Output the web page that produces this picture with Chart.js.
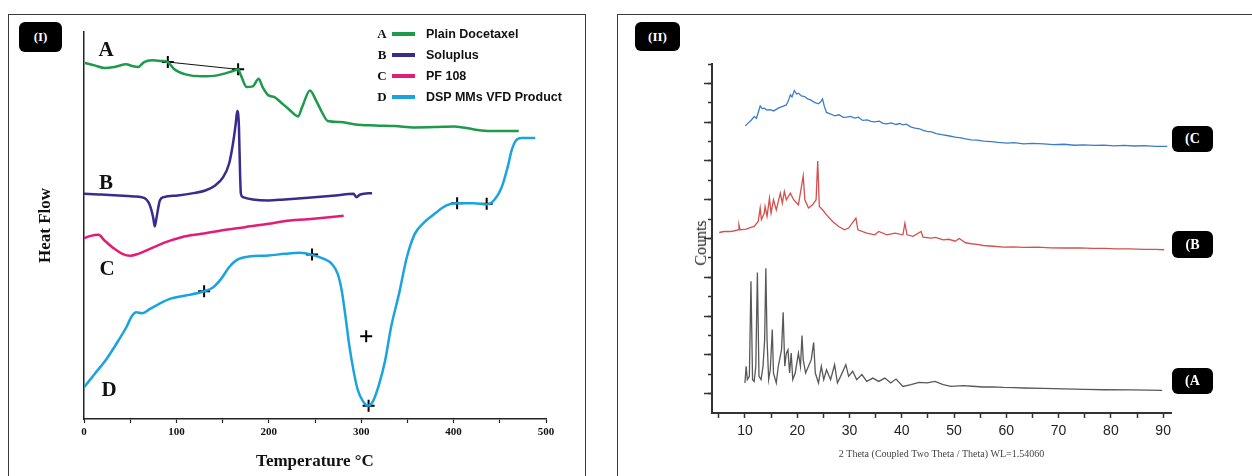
<!DOCTYPE html>
<html>
<head>
<meta charset="utf-8">
<script src="https://cdn.jsdelivr.net/npm/chart.js@4.4.0/dist/chart.umd.min.js"></script>
<style>
  body { margin: 0; background: #fff; width: 1252px; height: 476px; overflow: hidden; position: relative; font-family: "Liberation Serif", serif; }
  .panel { position: absolute; border: 1.5px solid #3a3a3a; border-bottom: none; }
  #panel1 { left: 8px; top: 14px; width: 576px; height: 470px; }
  #panel2 { left: 617px; top: 14px; width: 640px; height: 470px; border-right: none; }
  canvas { position: absolute; top: 0; }
  #dsc { left: 0; }
  #xrd { left: 620px; }
  .tag { position: absolute; background: #000; color: #fff; border-radius: 6px; font: bold 13px "Liberation Serif", serif; display: flex; align-items: center; justify-content: center; }
  .letter { position: absolute; font: bold 21px "Liberation Serif", serif; color: #111; transform: translate(-50%, -50%); }
  .leg { position: absolute; left: 376px; height: 20px; display: flex; align-items: center; }
  .leg b { font: bold 13px "Liberation Serif", serif; width: 12px; text-align: center; color: #111; }
  .leg i { display: inline-block; width: 23px; height: 4px; margin: 0 11px 0 4px; }
  .leg span { font: bold 12.5px "Liberation Sans", sans-serif; color: #111; }
  #counts { position: absolute; left: 701px; top: 243px; transform: translate(-50%, -50%) rotate(-90deg); font: 16px "Liberation Serif", serif; color: #222; white-space: nowrap; }
</style>
</head>
<body>
<div class="panel" id="panel1"></div>
<div class="panel" id="panel2"></div>

<canvas id="dsc" width="600" height="476"></canvas>
<canvas id="xrd" width="632" height="476"></canvas>

<div class="tag" style="left:19px;top:22px;width:43px;height:30px;">(I)</div>
<div class="tag" style="left:635px;top:22px;width:45px;height:29px;">(II)</div>

<div class="letter" style="left:106px;top:49px;">A</div>
<div class="letter" style="left:106px;top:182px;">B</div>
<div class="letter" style="left:107px;top:268px;">C</div>
<div class="letter" style="left:109px;top:389px;">D</div>

<div class="leg" style="top:24px;"><b>A</b><i style="background:#1d9b4a"></i><span>Plain Docetaxel</span></div>
<div class="leg" style="top:45px;"><b>B</b><i style="background:#3b2b8c"></i><span>Soluplus</span></div>
<div class="leg" style="top:66px;"><b>C</b><i style="background:#e21c79"></i><span>PF 108</span></div>
<div class="leg" style="top:87px;"><b>D</b><i style="background:#1aa3e0"></i><span>DSP MMs VFD Product</span></div>

<div id="counts">Counts</div>
<div class="tag" style="left:1172px;top:126px;width:41px;height:26px;font-size:14px;">(C</div>
<div class="tag" style="left:1172px;top:231px;width:41px;height:27px;font-size:14px;">(B</div>
<div class="tag" style="left:1172px;top:368px;width:41px;height:26px;font-size:14px;">(A</div>

<script>
// DSC thermograms (panel I), arbitrary heat flow units
const tempA = [0.9, 11.5, 22.2, 32.9, 45.8, 52.2, 58.6, 65.0, 73.6, 84.3, 90.7, 97.1, 109.9, 127.0, 144.1, 161.2, 166.8, 169.8, 176.2, 182.6, 189.0, 193.3, 199.7, 206.2, 212.6, 221.1, 231.8, 236.1, 244.6, 251.1, 257.5, 263.9, 276.7, 293.8, 315.2, 336.6, 358.0, 379.4, 400.8, 422.1, 439.2, 470.5]
const flowA = [106.7, 106.0, 105.2, 105.5, 106.3, 105.8, 105.5, 107.0, 107.5, 107.3, 107.0, 105.0, 103.3, 102.7, 103.0, 104.3, 104.8, 103.0, 99.5, 99.7, 102.0, 99.5, 97.0, 96.5, 95.0, 93.0, 90.7, 93.5, 98.5, 95.5, 92.0, 89.3, 89.0, 88.3, 88.0, 87.8, 87.4, 87.5, 87.7, 86.8, 86.3, 86.3]

const tempB = [0, 15.8, 37.2, 54.3, 65.0, 70.6, 74.8, 76.6, 78.3, 82.1, 86.4, 101.4, 118.5, 131.3, 142.0, 150.6, 157.0, 161.2, 164.2, 165.9, 167.7, 168.9, 169.8, 171.9, 182.6, 199.7, 216.8, 242.5, 272.4, 291.7, 294.7, 299.0, 311.8]
const flowB = [67.5, 67.3, 67.0, 66.7, 66.3, 64.5, 60.5, 57.7, 60.0, 65.5, 66.5, 67.0, 67.7, 68.5, 70.0, 72.5, 76.5, 82.5, 88.5, 92.3, 87.5, 73.5, 67.5, 66.5, 65.8, 65.5, 65.8, 66.3, 67.0, 67.5, 66.5, 67.3, 67.7]

const tempC = [0, 7.3, 15.8, 22.2, 32.9, 41.5, 50.0, 58.6, 71.4, 88.5, 105.6, 127.0, 148.4, 174.1, 199.7, 216.8, 242.5, 281.0]
const flowC = [54.2, 54.9, 55.2, 53.5, 51.0, 49.5, 48.9, 49.5, 51.0, 53.0, 54.5, 55.5, 56.5, 57.5, 58.5, 59.3, 59.9, 60.9]

const tempD = [0, 11.5, 24.4, 37.2, 45.8, 52.2, 56.5, 62.9, 71.4, 80.0, 92.8, 109.9, 129.2, 139.9, 148.4, 157.0, 165.5, 178.4, 199.7, 216.8, 234.0, 246.8, 259.6, 268.2, 274.6, 278.9, 283.1, 287.4, 291.7, 296.0, 301.5, 307.5, 313.1, 319.5, 325.9, 332.3, 340.9, 349.4, 358.0, 366.5, 379.4, 392.2, 402.9, 422.1, 435.0, 443.5, 452.1, 458.5, 462.8, 467.0, 473.5, 488.4]
const flowD = [9.5, 13.5, 18.0, 23.5, 27.5, 31.0, 32.0, 31.7, 33.0, 34.3, 36.0, 37.0, 38.2, 39.5, 42.0, 45.5, 47.7, 48.7, 49.0, 49.5, 49.8, 49.2, 48.0, 46.5, 43.5, 38.5, 30.5, 21.5, 14.5, 9.0, 5.5, 4.0, 5.5, 10.5, 17.5, 27.5, 37.5, 48.5, 55.5, 58.5, 61.5, 64.0, 64.7, 64.7, 64.3, 65.5, 69.5, 75.5, 80.5, 83.3, 84.2, 84.2]

// onset / peak crosses and the tangent drawn on curve A
const markT = [90.7, 166.8, 130.0, 246.8, 305.4, 308.0, 403.8, 435.8]
const markF = [107.0, 104.8, 38.3, 49.3, 24.8, 4.0, 64.7, 64.5]
const tangentT = [90.7, 166.8]
const tangentF = [107.0, 104.8]

const tempTicks = [0, 50, 100, 150, 200, 250, 300, 350, 400, 450, 500]

// XRD patterns (panel II), stacked counts in tick units
const thetaA = [10.0, 10.23, 10.46, 10.85, 11.15, 11.46, 11.77, 12.08, 12.38, 12.69, 13.08, 13.46, 13.77, 14.0, 14.23, 14.54, 14.85, 15.23, 15.46, 16.0, 16.38, 17.0, 17.31, 17.62, 17.92, 18.23, 18.54, 18.85, 19.15, 19.62, 20.23, 20.62, 20.92, 21.15, 21.61, 22.15, 22.69, 23.15, 23.46, 24.07, 24.61, 25.07, 25.61, 26.38, 27.15, 27.69, 28.3, 29.3, 29.84, 30.6, 31.38, 32.38, 33.3, 34.46, 35.6, 36.76, 37.9, 38.9, 40.22, 41.76, 43.3, 44.84, 46.38, 47.9, 49.45, 51.76, 53.5, 55.6, 57.5, 59.45, 61.5, 63.3, 67.0, 71.0, 75.0, 78.7, 84.0, 89.8]
const countsA = [1.55, 2.41, 1.72, 1.89, 6.79, 1.72, 1.63, 2.41, 7.25, 1.89, 1.72, 2.41, 3.78, 7.47, 3.78, 1.72, 2.23, 4.30, 2.06, 1.55, 2.41, 3.26, 5.19, 2.41, 3.09, 3.26, 2.06, 3.09, 1.72, 2.06, 3.09, 2.41, 3.99, 2.75, 2.06, 2.41, 2.75, 3.64, 2.06, 1.55, 2.41, 1.72, 2.23, 1.72, 2.49, 1.55, 1.89, 2.49, 1.89, 2.15, 1.72, 1.98, 1.63, 1.80, 1.63, 1.80, 1.55, 1.75, 1.37, 1.46, 1.58, 1.55, 1.63, 1.46, 1.37, 1.41, 1.38, 1.34, 1.35, 1.32, 1.31, 1.29, 1.27, 1.24, 1.22, 1.20, 1.19, 1.17]

const thetaB = [5.08, 6.0, 7.15, 8.0, 8.69, 8.85, 9.08, 10.23, 11.0, 11.77, 12.54, 12.92, 13.15, 13.69, 13.85, 14.23, 14.69, 15.0, 15.46, 16.0, 16.77, 17.15, 17.54, 17.92, 18.69, 19.31, 20.23, 21.15, 21.46, 22.15, 22.92, 23.61, 23.92, 24.23, 24.84, 25.61, 26.77, 27.92, 29.07, 29.84, 31.23, 31.61, 33.3, 34.84, 35.6, 37.15, 38.7, 40.22, 40.6, 41.0, 42.15, 43.7, 44.07, 45.6, 46.5, 47.9, 49.0, 50.2, 51.0, 52.2, 53.3, 54.4, 55.6, 57.5, 59.45, 61.4, 63.3, 66.0, 68.5, 71.0, 74.0, 76.5, 78.7, 81.0, 83.5, 86.4, 88.5, 90.2]
const countsB = [9.31, 9.36, 9.36, 9.40, 9.45, 9.71, 9.45, 9.48, 9.56, 9.62, 9.88, 10.57, 9.97, 10.31, 10.65, 10.14, 11.08, 10.31, 11.0, 10.48, 11.34, 10.82, 11.43, 11.0, 11.34, 11.0, 10.74, 12.23, 11.0, 10.57, 10.74, 11.0, 13.0, 10.65, 10.48, 10.22, 9.88, 9.62, 9.45, 9.54, 10.05, 9.45, 9.28, 9.19, 9.36, 9.19, 9.28, 9.19, 9.79, 9.19, 9.11, 9.36, 9.07, 9.02, 9.06, 8.93, 8.96, 8.86, 9.0, 8.78, 8.73, 8.70, 8.64, 8.60, 8.56, 8.57, 8.54, 8.55, 8.52, 8.51, 8.52, 8.49, 8.49, 8.47, 8.47, 8.44, 8.44, 8.42]

const thetaC = [10.08, 10.6, 11.2, 11.77, 12.2, 12.6, 12.92, 13.3, 13.69, 14.2, 14.84, 15.5, 16.38, 17.1, 17.92, 18.3, 18.69, 19.0, 19.46, 19.9, 20.23, 20.8, 21.38, 22.0, 22.53, 23.3, 24.07, 24.5, 24.84, 25.2, 25.61, 26.4, 27.15, 28.0, 28.8, 29.46, 30.2, 31.0, 31.7, 32.53, 33.4, 34.1, 34.84, 35.7, 36.4, 37.15, 38.0, 38.9, 39.6, 40.22, 40.9, 41.7, 42.53, 43.4, 44.1, 44.84, 45.7, 46.6, 47.91, 48.9, 50.22, 51.3, 52.2, 53.3, 54.5, 55.6, 57.14, 58.4, 60.22, 61.5, 63.3, 65.0, 67.14, 69.0, 71.0, 73.0, 74.8, 76.8, 78.7, 80.6, 82.5, 84.5, 86.4, 88.5, 90.8]
const countsC = [14.81, 14.95, 15.10, 15.29, 15.20, 15.55, 15.84, 15.70, 15.72, 15.62, 15.64, 15.58, 15.72, 15.80, 15.89, 16.10, 16.41, 16.30, 16.63, 16.45, 16.49, 16.35, 16.32, 16.20, 16.15, 16.02, 15.95, 16.05, 16.20, 15.80, 15.50, 15.42, 15.33, 15.38, 15.25, 15.26, 15.30, 15.21, 15.26, 15.09, 15.12, 15.04, 15.02, 15.05, 14.94, 14.91, 14.96, 14.88, 14.93, 14.86, 14.90, 14.76, 14.69, 14.66, 14.58, 14.52, 14.50, 14.41, 14.35, 14.30, 14.23, 14.19, 14.14, 14.09, 14.07, 14.02, 14.00, 13.96, 13.92, 13.94, 13.88, 13.91, 13.88, 13.84, 13.86, 13.81, 13.83, 13.80, 13.82, 13.78, 13.80, 13.77, 13.79, 13.75, 13.75]

const thetaTicks = [5, 10, 15, 20, 25, 30, 35, 40, 45, 50, 55, 60, 65, 70, 75, 80, 85, 90]
const countTicks = [1, 2, 3, 4, 5, 6, 7, 8, 9, 10, 11, 12, 13, 14, 15, 16, 17, 18]
const countMajor = [1, 3, 5, 7, 9, 11, 13, 15, 17]

const pts = (xs, ys) => xs.map((x, i) => ({ x: x, y: ys[i] }))
const asTicks = (vals) => vals.map(v => ({ value: v }))

const serifBold = (size) => ({ family: 'Liberation Serif', weight: 'bold', size: size })

//---- panel I
const curve = (xs, ys, color) => ({
    data: pts(xs, ys),
    borderColor: color,
    borderWidth: 2.5,
    pointRadius: 0,
    cubicInterpolationMode: 'monotone'
})

new Chart(document.getElementById('dsc'), {
    type: 'line',
    data: {
        datasets: [
            curve(tempA, flowA, '#1d9b4a'),
            curve(tempB, flowB, '#3b2b8c'),
            curve(tempC, flowC, '#e21c79'),
            curve(tempD, flowD, '#1aa3e0'),
            { data: pts(tangentT, tangentF), borderColor: '#111', borderWidth: 1, pointRadius: 0 },
            { type: 'scatter', data: pts(markT, markF), pointStyle: 'cross', pointRadius: 6, borderColor: '#000', borderWidth: 2 }
        ]
    },
    options: {
        responsive: false,
        animation: false,
        layout: { padding: { left: 31, right: 54, top: 32, bottom: 0 } },
        plugins: { legend: { display: false }, tooltip: { enabled: false } },
        scales: {
            x: {
                type: 'linear', min: 0, max: 500,
                afterBuildTicks: (s) => { s.ticks = asTicks(tempTicks) },
                ticks: { callback: (v) => v % 100 === 0 ? v : '', autoSkip: false, maxRotation: 0, font: serifBold(11), color: '#111' },
                grid: { drawOnChartArea: false, tickLength: 4, color: '#222', tickWidth: 1.2 },
                border: { color: '#222', width: 1.5 },
                title: { display: true, text: 'Temperature °C', font: serifBold(17), color: '#111' },
                afterFit: (s) => { s.height = 57 }
            },
            y: {
                min: 0, max: 116,
                ticks: { display: false },
                grid: { display: false },
                border: { color: '#222', width: 1.5 },
                title: { display: true, text: 'Heat Flow', font: serifBold(17), color: '#111' },
                afterFit: (s) => { s.width = 53 }
            }
        }
    }
})

//---- panel II
const pattern = (xs, ys, color) => ({
    data: pts(xs, ys),
    borderColor: color,
    borderWidth: 1.3,
    pointRadius: 0
})

new Chart(document.getElementById('xrd'), {
    type: 'line',
    data: {
        datasets: [
            pattern(thetaA, countsA, '#585858'),
            pattern(thetaB, countsB, '#d4504e'),
            pattern(thetaC, countsC, '#3b7cc8')
        ]
    },
    options: {
        responsive: false,
        animation: false,
        layout: { padding: { left: 92, right: 81, top: 64, bottom: 12 } },
        plugins: { legend: { display: false }, tooltip: { enabled: false } },
        scales: {
            x: {
                type: 'linear', min: 3.7, max: 91.5,
                afterBuildTicks: (s) => { s.ticks = asTicks(thetaTicks) },
                ticks: { callback: (v) => v % 10 === 0 ? v : '', autoSkip: false, maxRotation: 0, padding: 5, font: { family: 'Liberation Sans', size: 14 }, color: '#222' },
                grid: { drawOnChartArea: false, tickLength: 5, color: '#333', tickWidth: 1.5 },
                border: { color: '#333', width: 2 },
                title: { display: true, text: '2 Theta (Coupled Two Theta / Theta) WL=1.54060', font: { family: 'Liberation Serif', size: 10 }, color: '#444' },
                afterFit: (s) => { s.height = 51 }
            },
            y: {
                min: 0, max: 18,
                afterBuildTicks: (s) => { s.ticks = asTicks(countTicks) },
                ticks: { display: false },
                grid: { drawOnChartArea: false, tickLength: 4, color: '#333', tickWidth: 1.5 },
                border: { color: '#333', width: 2 },
                afterFit: (s) => { s.width = 0 }
            },
            y2: {
                position: 'left', min: 0, max: 18,
                afterBuildTicks: (s) => { s.ticks = asTicks(countMajor) },
                ticks: { display: false },
                grid: { drawOnChartArea: false, tickLength: 8, color: '#333', tickWidth: 1.5 },
                border: { display: false },
                afterFit: (s) => { s.width = 0 }
            }
        }
    }
})
</script>
</body>
</html>
